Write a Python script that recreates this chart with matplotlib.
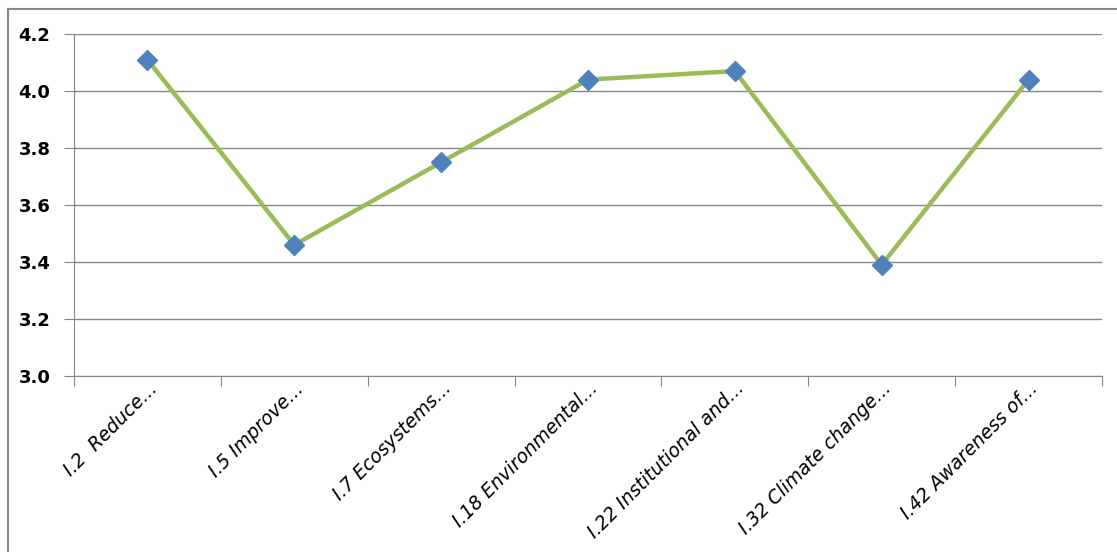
import matplotlib.pyplot as plt
from matplotlib.lines import Line2D
import numpy as np


# labels and mean scores
categories = ['I.2  Reduce...', 'I.5 Improve...', 'I.7 Ecosystems...',
              'I.18 Environmental...', 'I.22 Institutional and...',
              'I.32 Climate change...', 'I.42 Awareness of...']
scores = [4.11, 3.46, 3.75, 4.04, 4.07, 3.39, 4.04]
y_ticks = [3.0, 3.2, 3.4, 3.6, 3.8, 4.0, 4.2]

grid_col = '#868686'

fig = plt.figure(figsize=(11.17, 5.52), dpi=100)
ax = fig.add_axes([74 / 1117, 1 - 376 / 552, (1102 - 74) / 1117, (376 - 34) / 552])

x = np.arange(len(categories))
ax.plot(x, scores, color='#9BBB59', linewidth=3.2, zorder=3)
ax.plot(x, scores, linestyle='none', marker='D', markersize=10.5,
        color='#4F81BD', markeredgecolor='#4F81BD', zorder=4)

ax.set_xlim(-0.5, len(categories) - 0.5)
ax.set_ylim(3.0, 4.2)
ax.set_yticks(y_ticks)
ax.set_yticklabels(['%.1f' % v for v in y_ticks], fontsize=13, fontweight='bold')
ax.yaxis.grid(True, color=grid_col, linewidth=1.0)
ax.set_axisbelow(True)

# ticks between the categories, labels centred under the points
ax.set_xticks(np.arange(len(categories) + 1) - 0.5)
ax.set_xticklabels([])
ax.set_xticks(x, minor=True)
ax.set_xticklabels(categories, minor=True, rotation=45, ha='right', va='top',
                   rotation_mode='anchor', fontsize=13.5, fontstyle='italic')
ax.tick_params(axis='x', which='major', length=7, color=grid_col, direction='out')
ax.tick_params(axis='x', which='minor', length=0, pad=2)
ax.tick_params(axis='y', length=7, color=grid_col, pad=10)

for side in ['top', 'right']:
    ax.spines[side].set_visible(False)
ax.spines['left'].set_color(grid_col)
ax.spines['bottom'].set_color(grid_col)

# outer chart frame (cut off at right and bottom)
fig.add_artist(Line2D([7.5 / 1117, 7.5 / 1117], [0, 1 - 8.5 / 552],
                      transform=fig.transFigure, color=grid_col, linewidth=1.5))
fig.add_artist(Line2D([7.5 / 1117, 1], [1 - 8.5 / 552, 1 - 8.5 / 552],
                      transform=fig.transFigure, color=grid_col, linewidth=1.5))

fig.savefig('out.png', dpi=100)
